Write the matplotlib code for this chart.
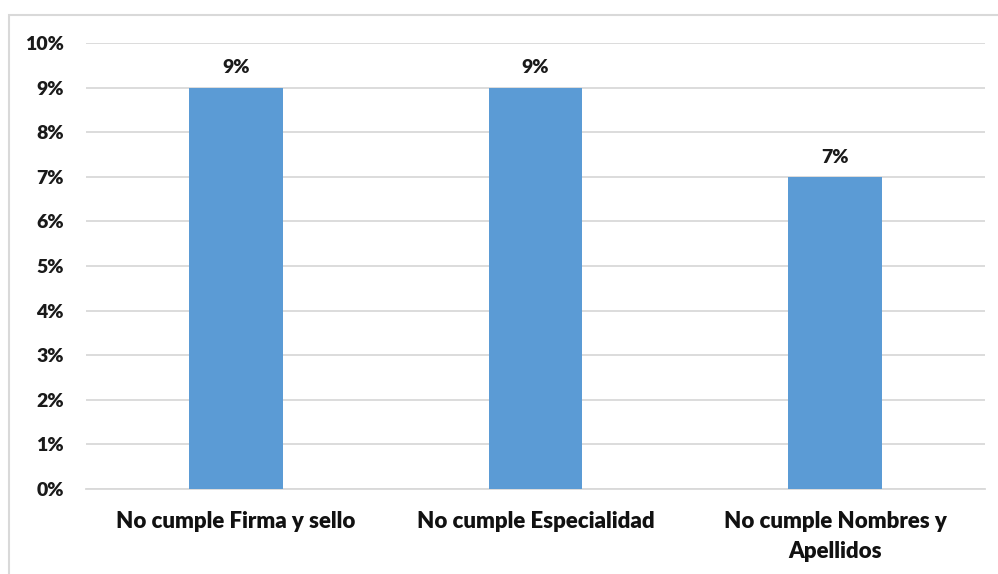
import matplotlib
matplotlib.use("Agg")
import matplotlib.pyplot as plt
from matplotlib.patches import Rectangle
import numpy as np

categories = ["No cumple Firma y sello", "No cumple Especialidad", "No cumple Nombres y\nApellidos"]
values = [9, 9, 7]
yticks = [0, 1, 2, 3, 4, 5, 6, 7, 8, 9, 10]

plt.rcParams['font.family'] = ['Lato', 'DejaVu Sans']

W, H = 998, 574
fig = plt.figure(figsize=(W/100, H/100), dpi=100)
ax = fig.add_axes([86/W, 1-489/H, (985-86)/W, (489-43)/H])

x = np.arange(len(categories))
ax.bar(x, values, width=0.313, color="#5b9bd5", zorder=3)
for xi, v in zip(x, values):
    ax.annotate(f"{v}%", (xi, v), xytext=(0, 8), textcoords="offset points",
                ha="center", va="bottom", fontsize=14, fontweight="heavy", color="#1a1a1a")

ax.set_xlim(-0.5, len(categories)-0.5)
ax.set_ylim(0, 10)
ax.set_yticks(yticks)
ax.set_yticklabels([f"{t}%" for t in yticks], fontsize=14, fontweight="heavy", color="#1a1a1a")
ax.set_xticks(x)
ax.set_xticklabels(categories, fontsize=16, fontweight="heavy", color="#111111", linespacing=1.5)
ax.tick_params(axis="both", length=0)
ax.tick_params(axis="y", pad=16)
ax.tick_params(axis="x", pad=16)
ax.grid(axis="y", color="#d9d9d9", linewidth=1.3, zorder=0)
for s in ["top", "right", "left"]:
    ax.spines[s].set_visible(False)
ax.spines["bottom"].set_color("#d9d9d9")
ax.spines["bottom"].set_linewidth(1.3)

fig.patches.append(Rectangle((9/W, -0.1), 1.2, 1 - 15/H + 0.1, transform=fig.transFigure,
                             fill=False, edgecolor="#d9d9d9", linewidth=1.5))

fig.savefig("out.png", dpi=100)
